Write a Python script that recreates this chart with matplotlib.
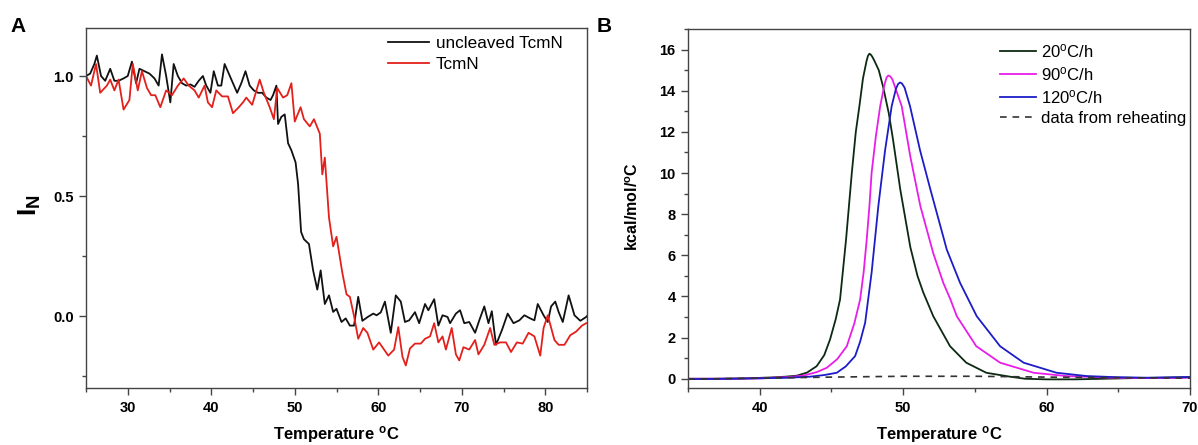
import matplotlib
matplotlib.use("Agg")
import matplotlib.pyplot as plt
from matplotlib.ticker import MultipleLocator

plt.rcParams['font.family'] = ['Liberation Sans', 'DejaVu Sans']
plt.rcParams['mathtext.fontset'] = 'custom'
plt.rcParams['mathtext.rm'] = 'Liberation Sans'
plt.rcParams['mathtext.bf'] = 'Liberation Sans:bold'
plt.rcParams['mathtext.it'] = 'Liberation Sans:italic'

# ---------------- Panel A data ----------------
uncleaved_T = [25.0, 25.5, 26.0, 26.3, 26.8, 27.3, 27.9, 28.4, 28.9, 29.5, 30.0, 30.5, 31.0, 31.4,
               32.0, 32.6, 33.2, 33.7, 34.1, 34.6, 35.1, 35.5, 36.0, 36.5, 37.0, 37.5, 38.0, 38.5,
               39.0, 39.4, 39.9, 40.3, 40.8, 41.2, 41.6, 42.1, 42.6, 43.1, 43.6, 44.1, 44.6, 45.1,
               45.6, 46.1, 46.6, 47.1, 47.4, 47.8, 48.0, 48.4, 48.8, 49.2, 49.6, 50.1, 50.4, 50.76,
               51.1, 51.7, 52.2, 52.7, 53.1, 53.6, 54.1, 54.6, 55.0, 55.6, 56.1, 56.6, 57.1, 57.6,
               58.1, 58.7, 59.4, 59.8, 60.3, 60.8, 61.5, 62.1, 62.7, 63.2, 63.7, 64.4, 64.9, 65.6,
               66.0, 66.7, 67.2, 67.7, 68.3, 68.6, 69.3, 69.8, 70.3, 70.9, 71.6, 72.1, 72.7, 73.2,
               73.6, 74.1, 74.8, 75.5, 76.2, 76.9, 77.5, 78.2, 78.7, 79.1, 79.8, 80.3, 80.7, 81.2,
               81.6, 82.1, 82.8, 83.5, 84.2, 84.9, 85.0]
uncleaved_I = [1.00, 1.01, 1.05, 1.085, 1.00, 0.98, 1.03, 0.98, 0.98, 0.99, 1.00, 1.06, 0.97, 1.03,
               1.02, 1.01, 0.99, 0.96, 1.09, 1.00, 0.89, 1.05, 1.00, 0.97, 0.96, 0.965, 0.955, 0.98,
               1.00, 0.96, 0.93, 1.02, 0.96, 0.96, 1.05, 1.01, 0.97, 0.93, 0.97, 1.02, 0.96, 0.94,
               0.93, 0.93, 0.91, 0.90, 0.92, 0.96, 0.80, 0.83, 0.84, 0.72, 0.69, 0.64, 0.55, 0.35,
               0.32, 0.30, 0.19, 0.11, 0.19, 0.05, 0.086, 0.017, 0.03, -0.025, -0.01, -0.04, -0.04, 0.08,
               -0.02, -0.005, 0.01, 0.003, 0.015, 0.06, -0.07, 0.086, 0.06, -0.025, -0.018, 0.016, -0.03, 0.05,
               0.024, 0.07, -0.04, 0.003, -0.004, -0.03, 0.01, 0.024, -0.03, -0.025, -0.07, -0.018, 0.04, -0.03,
               0.02, -0.12, -0.06, 0.01, -0.03, -0.018, 0.003, -0.01, -0.018, 0.05, 0.003, -0.025, 0.04, 0.06,
               0.017, -0.025, 0.086, 0.003, -0.02, -0.004, 0.0]

tcmn_T = [25.0, 25.6, 26.2, 26.7, 27.5, 27.9, 28.4, 28.9, 29.5, 30.2, 30.6, 31.2, 31.7, 32.3,
          32.8, 33.3, 33.9, 34.6, 35.3, 36.0, 36.7, 37.3, 38.0, 38.5, 39.2, 39.6, 40.1, 40.6,
          41.3, 42.0, 42.6, 43.3, 43.8, 44.2, 44.9, 45.8, 46.3, 47.0, 47.5, 47.9, 48.6, 49.1,
          49.6, 50.0, 50.7, 51.1, 51.8, 52.3, 53.0, 53.3, 53.6, 54.1, 54.6, 55.0, 55.7, 56.2,
          56.6, 57.1, 57.6, 58.2, 58.7, 59.4, 60.1, 60.5, 61.2, 61.9, 62.4, 62.9, 63.3, 63.8,
          64.4, 65.1, 65.6, 66.2, 66.7, 67.2, 67.7, 68.1, 68.8, 69.3, 69.7, 70.2, 70.9, 71.6,
          72.0, 72.7, 73.4, 73.9, 74.6, 75.3, 75.9, 76.6, 77.3, 78.0, 78.7, 79.4, 79.8, 80.3,
          81.1, 81.6, 82.3, 83.0, 83.7, 84.4, 84.9]
tcmn_I = [1.00, 0.96, 1.05, 0.93, 0.96, 0.985, 0.94, 0.985, 0.86, 0.90, 1.05, 0.94, 1.02, 0.95,
          0.92, 0.92, 0.87, 0.94, 0.92, 0.96, 0.99, 0.96, 0.94, 0.91, 0.96, 0.89, 0.87, 0.94,
          0.915, 0.915, 0.845, 0.87, 0.89, 0.91, 0.88, 0.985, 0.93, 0.87, 0.82, 0.95, 0.91, 0.92,
          0.97, 0.81, 0.87, 0.82, 0.79, 0.82, 0.76, 0.59, 0.66, 0.41, 0.29, 0.33, 0.18, 0.09,
          0.08, 0.0, -0.095, -0.05, -0.07, -0.14, -0.11, -0.13, -0.165, -0.14, -0.046, -0.17, -0.206, -0.135,
          -0.115, -0.115, -0.095, -0.085, -0.03, -0.11, -0.085, -0.14, -0.05, -0.16, -0.185, -0.13, -0.14, -0.10,
          -0.16, -0.12, -0.05, -0.12, -0.11, -0.11, -0.15, -0.11, -0.115, -0.07, -0.085, -0.165, -0.05, 0.003,
          -0.10, -0.12, -0.12, -0.08, -0.065, -0.04, -0.03]

# ---------------- Panel B data ----------------
r20_T = [35, 37, 39, 40.7, 41.8, 42.6, 43.3, 43.97, 44.5, 44.9, 45.3, 45.6, 46.02, 46.42, 46.7,
         46.95, 47.2, 47.45, 47.55, 47.65, 47.75, 47.85, 48.0, 48.3, 48.6, 49.0, 49.3, 49.8, 50.2,
         50.5, 51.0, 51.4, 52.1, 53.27, 54.4, 55.8, 57.45, 58.5, 60, 62, 64, 66, 68, 70]
r20_C = [0.0, 0.0, 0.02, 0.06, 0.1, 0.15, 0.3, 0.61, 1.15, 1.9, 2.9, 3.85, 6.77, 10.0, 12.0,
         13.25, 14.6, 15.45, 15.7, 15.8, 15.75, 15.65, 15.45, 15.0, 14.2, 12.9, 11.6, 9.2, 7.6,
         6.4, 5.0, 4.2, 3.04, 1.58, 0.78, 0.29, 0.1, 0.0, -0.03, -0.03, 0.0, 0.03, 0.05, 0.08]

r90_T = [35, 38, 40, 42, 43.04, 44, 44.67, 45.4, 46.07, 46.6, 47.0, 47.25, 47.46, 47.65, 47.8,
         48.1, 48.4, 48.7, 48.85, 48.97, 49.1, 49.25, 49.5, 49.9, 50.5, 51.2, 52.1, 52.8, 53.3,
         53.74, 55.1, 56.76, 59.1, 61.4, 64.6, 67, 70]
r90_C = [0.0, 0.0, 0.02, 0.08, 0.15, 0.33, 0.53, 0.95, 1.58, 2.7, 3.85, 5.2, 6.77, 8.4, 10.0,
         11.8, 13.25, 14.3, 14.65, 14.74, 14.7, 14.55, 14.05, 13.25, 10.8, 8.39, 6.1, 4.66, 3.85,
         3.04, 1.58, 0.78, 0.29, 0.13, 0.05, 0.03, 0.05]

r120_T = [35, 38, 40, 42, 43.5, 44.5, 45.37, 46.0, 46.65, 47.0, 47.35, 47.8, 48.27, 48.74, 49.2,
          49.5, 49.65, 49.78, 49.92, 50.1, 50.48, 51.18, 51.9, 52.8, 53.04, 53.97, 55.13, 56.76,
          58.4, 60.7, 62.8, 64.7, 67, 70]
r120_C = [-0.02, 0.0, 0.02, 0.05, 0.1, 0.18, 0.29, 0.6, 1.1, 1.8, 2.72, 5.15, 8.39, 11.1, 13.25,
          14.1, 14.33, 14.4, 14.35, 14.15, 13.25, 11.1, 9.2, 6.9, 6.28, 4.66, 3.04, 1.58,
          0.78, 0.29, 0.13, 0.08, 0.05, 0.08]

reheat_T = [35, 40, 45, 50, 55, 60, 65, 70]
reheat_C = [-0.02, 0.03, 0.08, 0.12, 0.12, 0.08, 0.05, 0.03]

# ---------------- Figure ----------------
W, H = 1198, 445
fig = plt.figure(figsize=(W / 100, H / 100), dpi=100)
axA = fig.add_axes([86 / W, (H - 388) / H, 501 / W, 360 / H])
axB = fig.add_axes([688 / W, (H - 388) / H, 502 / W, 359 / H])

spine_col = '#444444'
for ax in (axA, axB):
    for s in ax.spines.values():
        s.set_color(spine_col)
        s.set_linewidth(1.0)
    ax.tick_params(which='both', direction='out', top=False, right=False, color=spine_col,
                   labelsize=10.5, width=1.0)
    ax.tick_params(which='major', length=5, pad=4)
    ax.tick_params(which='minor', length=3)

# Panel A
axA.plot(uncleaved_T, uncleaved_I, color='#111111', lw=1.3, label='uncleaved TcmN')
axA.plot(tcmn_T, tcmn_I, color='#e3201b', lw=1.3, label='TcmN')
axA.set_xlim(25, 85)
axA.set_ylim(-0.3, 1.2)
axA.set_xticks([30, 40, 50, 60, 70, 80])
axA.xaxis.set_minor_locator(MultipleLocator(5))
axA.set_yticks([0.0, 0.5, 1.0])
axA.set_yticklabels(['0.0', '0.5', '1.0'])
axA.yaxis.set_minor_locator(MultipleLocator(0.25))
for lbl in axA.get_xticklabels() + axA.get_yticklabels():
    lbl.set_fontweight('bold')
axA.set_xlabel(r'Temperature $^{\mathbf{o}}$C', fontsize=12, fontweight='bold', labelpad=7)
fig.text(30 / W, 1 - 205 / H, r'$\mathbf{I_N}$', fontsize=19, rotation=90,
         ha='center', va='center')
axA.legend(loc='upper left', bbox_to_anchor=(0.603, 0.978), frameon=False,
           fontsize=12.3, handlelength=2.4, handletextpad=0.4, borderpad=0,
           borderaxespad=0, labelspacing=0.35)

# Panel B
axB.plot(r20_T, r20_C, color='#0c2a12', lw=1.3, label=r'20$^{\mathrm{o}}$C/h')
axB.plot(r90_T, r90_C, color='#e81ee8', lw=1.3, label=r'90$^{\mathrm{o}}$C/h')
axB.plot(r120_T, r120_C, color='#1c1cc8', lw=1.3, label=r'120$^{\mathrm{o}}$C/h')
axB.plot(reheat_T, reheat_C, color='#333333', lw=1.2, ls=(0, (4, 3.5)), label='data from reheating')
axB.set_xlim(35, 70)
axB.set_ylim(-0.45, 17)
axB.set_xticks([40, 50, 60, 70])
axB.xaxis.set_minor_locator(MultipleLocator(5))
axB.set_yticks(list(range(0, 17, 2)))
axB.yaxis.set_minor_locator(MultipleLocator(1))
for lbl in axB.get_xticklabels() + axB.get_yticklabels():
    lbl.set_fontweight('bold')
axB.set_xlabel(r'Temperature $^{\mathbf{o}}$C', fontsize=12, fontweight='bold', labelpad=7)
fig.text(633 / W, 1 - 207 / H, r'kcal/mol/$^{\mathbf{o}}$C', fontsize=11.5, fontweight='bold',
         rotation=90, ha='center', va='center')
axB.legend(loc='upper left', bbox_to_anchor=(0.621, 0.963), frameon=False,
           fontsize=12, handlelength=2.2, handletextpad=0.3, borderpad=0,
           borderaxespad=0, labelspacing=0.3)

# Panel letters
fig.text(10 / W, 1 - 27 / H, 'A', fontsize=15, fontweight='bold', ha='left', va='center')
fig.text(597 / W, 1 - 27 / H, 'B', fontsize=15, fontweight='bold', ha='left', va='center')

fig.savefig('out.png', dpi=100)
